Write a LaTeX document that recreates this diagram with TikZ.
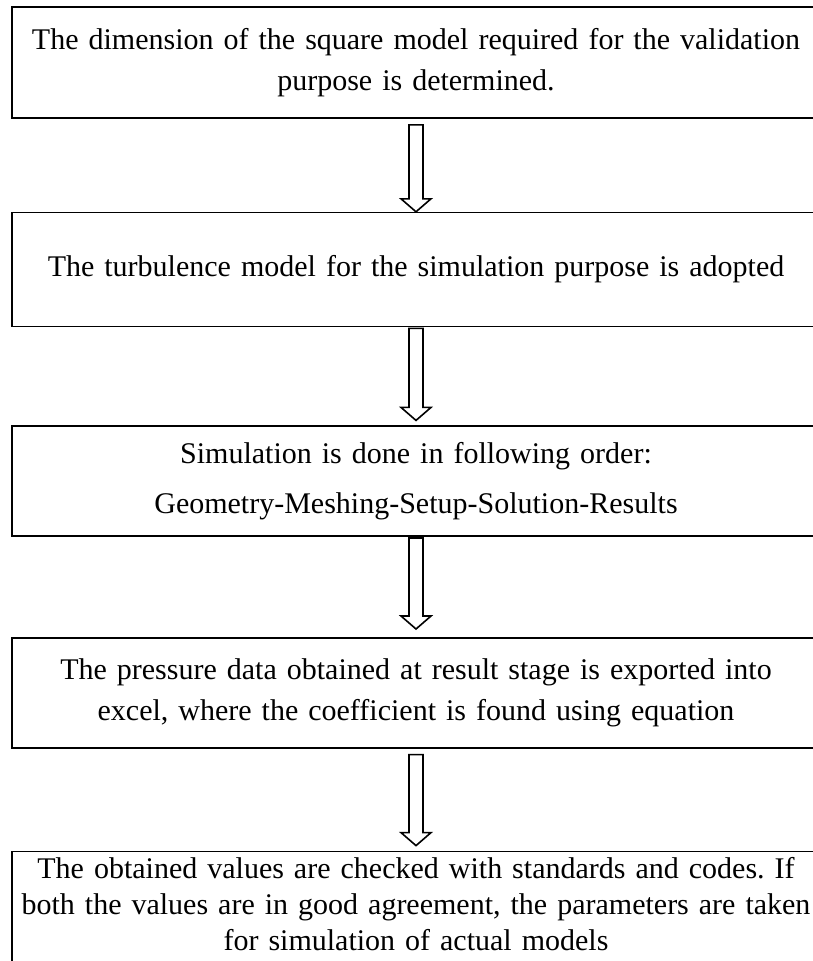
\documentclass[tikz,border=0pt]{standalone}
\usepackage{fontspec}
\setmainfont{Liberation Serif}
\usetikzlibrary{positioning,calc}
\frenchspacing

\tikzset{
  stage/.style={draw, line width=1.6pt, minimum width=808pt, text width=800pt,
    align=center, inner sep=0pt, font=\fontsize{30}{41}\selectfont},
  hollow/.style={draw, line width=1.6pt, fill=white, line join=miter},
}

\begin{document}
\begin{tikzpicture}[x=1pt, y=1pt]
\useasboundingbox (0,0) rectangle (813,-961);

\node[stage, minimum height=111pt] (dim) at (416,-62.5)
  {The dimension of the square model required for the validation\\ purpose is determined.};
\node[stage, minimum height=114pt] (turb) [below=93pt of dim]
  {The turbulence model for the simulation purpose is adopted};
\node[stage, minimum height=110pt, font=\fontsize{30}{50}\selectfont] (sim) [below=98pt of turb]
  {Simulation is done in following order:\\ Geometry-Meshing-Setup-Solution-Results};
\node[stage, minimum height=110pt] (press) [below=100pt of sim]
  {The pressure data obtained at result stage is exported into\\ excel, where the coefficient is found using equation};
\node[stage, minimum height=130pt, text height=20pt, text depth=96pt, font=\fontsize{30}{36}\selectfont] (check) [below=102pt of press]
  {The obtained values are checked with standards and codes. If\\ both the values are in good agreement, the parameters are taken\\ for simulation of actual models};

% hollow block arrows between the stages
\foreach \a/\b/\s/\e in {dim/turb/6pt/0pt, turb/sim/1pt/5pt, sim/press/1pt/8pt, press/check/6pt/5pt}
  \draw[hollow] let \p1=(\a.south), \p2=(\b.north) in
    (\x1-7pt,\y1-\s) -- (\x1+7pt,\y1-\s) -- (\x1+7pt,\y2+\e+13pt) -- (\x1+15pt,\y2+\e+13pt)
    -- (\x1,\y2+\e) -- (\x1-15pt,\y2+\e+13pt) -- (\x1-7pt,\y2+\e+13pt) -- cycle;
\end{tikzpicture}
\end{document}
